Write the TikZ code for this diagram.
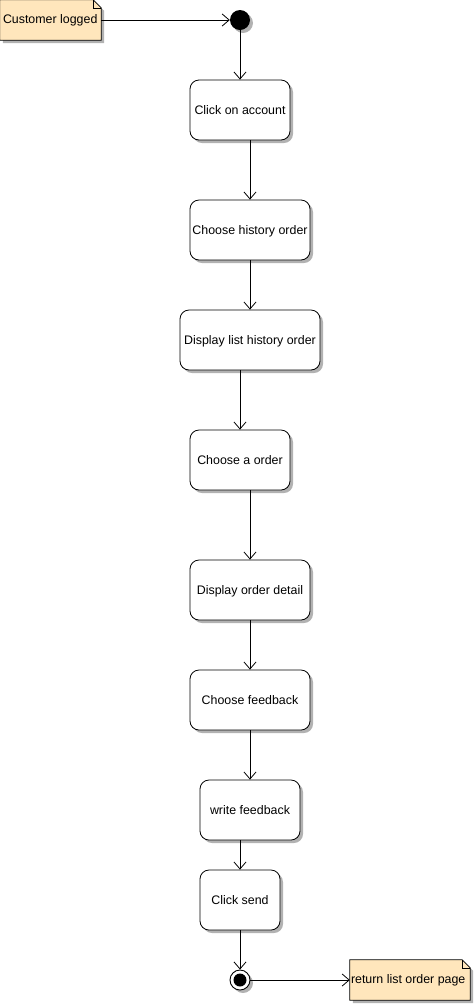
\documentclass[tikz,border=0pt]{standalone}
\usepackage{fontspec}
\setmainfont{Liberation Sans}
\usetikzlibrary{arrows.meta,shadows}
\definecolor{notefill}{HTML}{FFE6BC}
\newcommand{\notepath}[1]{(#1.north west) -- ([xshift=-8pt]#1.north east) -- ([yshift=-8pt]#1.north east) -- (#1.south east) -- (#1.south west) -- cycle}
\newcommand{\notefold}[1]{([xshift=-8pt]#1.north east) -- ([xshift=-8pt,yshift=-8pt]#1.north east) -- ([yshift=-8pt]#1.north east)}
\begin{document}
\begin{tikzpicture}[x=1pt,y=-1pt,font=\fontsize{12.4}{14}\selectfont,
	>={Straight Barb[length=7pt,width=12pt]},
	shade/.style={drop shadow={shadow xshift=3pt,shadow yshift=-3pt,fill=black!30,opacity=1}},
	flow/.style={->,line width=0.8pt},
	action/.style={draw,rounded corners=9pt,fill=white,line width=0.8pt,minimum height=60pt,inner sep=1pt,text depth=0.5pt,shade},
	notetext/.style={inner sep=1pt,minimum height=40pt},
	notebox/.style={fill=notefill,draw,line width=0.8pt,shade}]
		\useasboundingbox (0,0) rectangle (475,1005);
		% Notes
		\node[notetext,minimum width=101pt] (cust) at (50.5,20) {};
		\node[notetext,minimum width=120pt] (ret) at (410,980) {};
		\path[notebox] \notepath{cust};
		\draw[line width=0.6pt] \notefold{cust};
		\path[notebox] \notepath{ret};
		\draw[line width=0.6pt] \notefold{ret};
		\node[anchor=west,inner sep=1pt] (custtxt) at ([xshift=2pt]cust.west) {Customer logged};
		\node[anchor=west,inner sep=1pt] (rettxt) at ([xshift=0pt]ret.west) {return list order page};
		% Start and end
		\node[circle,fill=black,minimum size=20pt,inner sep=0pt,shade] (start) at (240,20) {};
		\node[circle,draw,fill=white,line width=0.9pt,minimum size=20pt,inner sep=0pt,shade] (stop) at (240,980) {};
		\node[circle,fill=black,minimum size=13pt,inner sep=0pt] (stopin) at (stop) {};
		% Actions
		\node[action,minimum width=100pt] (a1) at (240,110) {Click on account};
		\node[action,minimum width=120pt] (a2) at (250,230) {Choose history order};
		\node[action,minimum width=140pt] (a3) at (250,340) {Display list history order};
		\node[action,minimum width=100pt] (a4) at (240,460) {Choose a order};
		\node[action,minimum width=120pt] (a5) at (250,590) {Display order detail};
		\node[action,minimum width=120pt] (a6) at (250,700) {Choose feedback};
		\node[action,minimum width=100pt] (a7) at (250,810) {write feedback};
		\node[action,minimum width=80pt] (a8) at (240,900) {Click send};
		% Flow
		\draw[flow] (cust.east) -- (start.west);
		\draw[flow] (start.south) -- (a1.north);
		\draw[flow] (a1.south -| a2) -- (a2.north);
		\draw[flow] (a2.south) -- (a3.north);
		\draw[flow] (a3.south -| a4) -- (a4.north);
		\draw[flow] (a4.south -| a5) -- (a5.north);
		\draw[flow] (a5.south) -- (a6.north);
		\draw[flow] (a6.south) -- (a7.north);
		\draw[flow] (a7.south -| a8) -- (a8.north);
		\draw[flow] (a8.south) -- (stop.north);
		\draw[flow] (stop.east) -- (ret.west);
\end{tikzpicture}
\end{document}
